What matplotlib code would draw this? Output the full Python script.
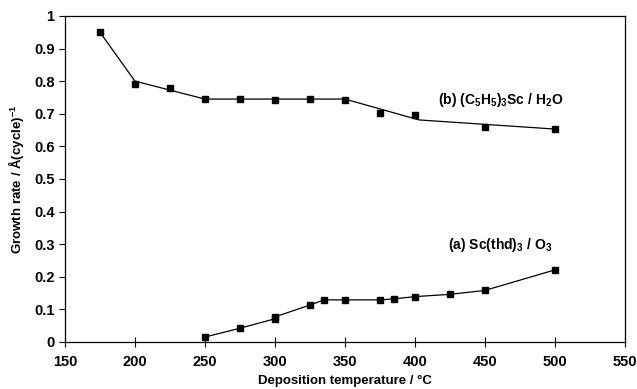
import matplotlib
matplotlib.use("Agg")
import matplotlib.pyplot as plt

plt.rcParams['font.family'] = ['Liberation Sans', 'DejaVu Sans']
plt.rcParams['font.weight'] = 'bold'
plt.rcParams['mathtext.fontset'] = 'custom'
plt.rcParams['mathtext.rm'] = 'Liberation Sans:bold'
plt.rcParams['mathtext.bf'] = 'Liberation Sans:bold'
plt.rcParams['mathtext.default'] = 'bf'

# (b) (C5H5)3Sc / H2O - measured points
b_temp = [175, 200, 225, 250, 275, 300, 325, 350, 375, 400, 450, 500]
b_rate = [0.950, 0.790, 0.780, 0.745, 0.745, 0.742, 0.745, 0.742, 0.702, 0.697, 0.660, 0.653]
# trend line drawn through (b)
b_line_temp = [175, 200, 250, 350, 403, 500]
b_line_rate = [0.950, 0.800, 0.745, 0.745, 0.681, 0.653]

# (a) Sc(thd)3 / O3
a_temp = [250, 275, 300, 300, 325, 335, 350, 375, 385, 400, 425, 450, 500]
a_rate = [0.015, 0.042, 0.071, 0.077, 0.113, 0.129, 0.129, 0.129, 0.132, 0.139, 0.146, 0.158, 0.221]

fig = plt.figure(figsize=(6.37, 3.89), dpi=100)
ax = fig.add_axes([0.102, 0.121, 0.879, 0.838])

ax.plot(b_line_temp, b_line_rate, color='black', lw=0.9)
ax.plot(b_temp, b_rate, 's', color='black', ms=5)
ax.plot(a_temp, a_rate, color='black', lw=0.9, marker='s', ms=5)

ax.text(461, 0.742, '(b) (C$_5$H$_5$)$_3$Sc / H$_2$O', fontsize=10,
        fontweight='bold', ha='center', va='center')
ax.text(461, 0.297, '(a) Sc(thd)$_3$ / O$_3$', fontsize=10,
        fontweight='bold', ha='center', va='center')

ax.set_xlim(150, 550)
ax.set_ylim(0, 1)
ax.set_xticks(range(150, 551, 50))
ax.set_yticks([0, 0.1, 0.2, 0.3, 0.4, 0.5, 0.6, 0.7, 0.8, 0.9, 1])
ax.set_yticklabels(['0', '0.1', '0.2', '0.3', '0.4', '0.5', '0.6', '0.7', '0.8', '0.9', '1'])
ax.tick_params(axis='x', direction='inout', length=7, labelsize=10.5, pad=6)
ax.tick_params(axis='y', direction='out', length=4, labelsize=10.5)
for s in ax.spines.values():
    s.set_linewidth(0.9)

ax.set_xlabel('Deposition temperature / \u00b0C', fontsize=9.5, fontweight='bold', labelpad=4)
ax.set_ylabel('Growth rate / \u00c5(cycle)$^{-1}$', fontsize=9.5, fontweight='bold', labelpad=6)

fig.savefig('out.png', dpi=100)
